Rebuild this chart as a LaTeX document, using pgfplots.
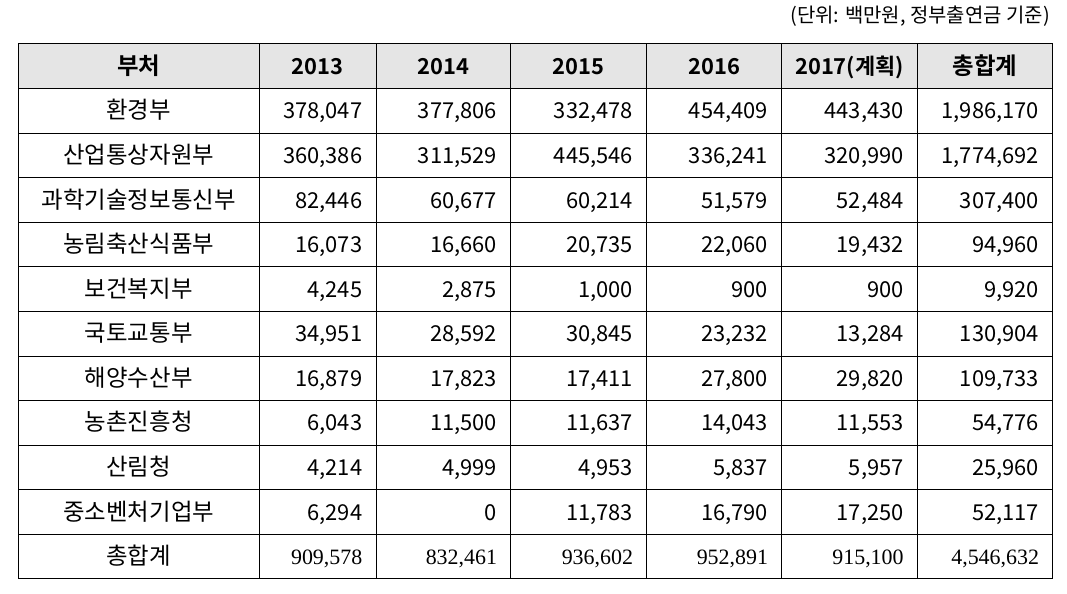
\documentclass[border=0pt]{standalone}
\usepackage{fontspec}
\setmainfont{Noto Sans CJK KR}[BoldFont=* Bold]
\newfontfamily\serifnum{Liberation Serif}
\usepackage{pgfplots}
\usepackage{pgfplotstable}
\pgfplotsset{compat=1.18}

\pgfplotstableread{
row name a b c d e t
1 환경부 378047 377806 332478 454409 443430 1986170
2 산업통상자원부 360386 311529 445546 336241 320990 1774692
3 과학기술정보통신부 82446 60677 60214 51579 52484 307400
4 농림축산식품부 16073 16660 20735 22060 19432 94960
5 보건복지부 4245 2875 1000 900 900 9920
6 국토교통부 34951 28592 30845 23232 13284 130904
7 해양수산부 16879 17823 17411 27800 29820 109733
8 농촌진흥청 6043 11500 11637 14043 11553 54776
9 산림청 4214 4999 4953 5837 5957 25960
10 중소벤처기업부 6294 0 11783 16790 17250 52117
11 총합계 909578 832461 936602 952891 915100 4546632
}\data

\newcommand{\fs}{\fontsize{22}{22}\selectfont}
\newcommand{\fk}{\fontsize{23.5}{23.5}\selectfont}
\newcommand{\numcol}[2]{%
  \addplot[draw=none,mark=none,point meta=explicit,
    nodes near coords={\pgfmathprintnumber[fixed,precision=0,1000 sep={,},assume math mode=true]{\pgfplotspointmeta}},
    every node near coord/.style={anchor=base east,inner sep=0pt,font=\fs},
    skip coords between index={10}{11}]
    table[x expr={#2-13.5}, y expr={44+44.58*(\thisrow{row}+0.5)+8}, meta=#1]{\data};
  \addplot[draw=none,mark=none,point meta=explicit,
    nodes near coords={\pgfmathprintnumber[fixed,precision=0,1000 sep={,},assume math mode=true]{\pgfplotspointmeta}},
    every node near coord/.style={anchor=base east,inner sep=0pt,font=\serifnum\fs},
    skip coords between index={0}{10}]
    table[x expr={#2-13.5}, y expr={44+44.58*(\thisrow{row}+0.5)+8}, meta=#1]{\data};
}

\begin{document}
\begin{tikzpicture}
\begin{axis}[
  width=1067bp, height=594bp, scale only axis,
  xmin=0, xmax=1067, ymin=0, ymax=594, y dir=reverse,
  hide axis, clip=false,
]
\path (axis cs:0,0) rectangle (axis cs:1067,594);
% header fill
\fill[black!10] (axis cs:18,44) rectangle (axis cs:1052.7,88.6);
% horizontal lines
\pgfplotsinvokeforeach{0,...,12}{
  \draw[line width=1bp] (axis cs:18,{44+44.58*#1}) -- (axis cs:1052.7,{44+44.58*#1});
}
% vertical lines
\foreach \xx in {18,259.3,376,510.7,646.7,781.7,917.3,1052.7}{
  \edef\tmp{\noexpand\draw[line width=1bp] (axis cs:\xx,44) -- (axis cs:\xx,579);}\tmp
}
% title
\node[anchor=base east,inner sep=0pt,font=\fontsize{20}{20}\selectfont] at (axis cs:1050,23) {(단위: 백만원, 정부출연금 기준)};
% header
\node[anchor=base,inner sep=0pt,font=\fk\bfseries] at (axis cs:138.7,74.3) {부처};
\node[anchor=base,inner sep=0pt,font=\fs\bfseries] at (axis cs:317.7,74.3) {2013};
\node[anchor=base,inner sep=0pt,font=\fs\bfseries] at (axis cs:443.4,74.3) {2014};
\node[anchor=base,inner sep=0pt,font=\fs\bfseries] at (axis cs:578.7,74.3) {2015};
\node[anchor=base,inner sep=0pt,font=\fs\bfseries] at (axis cs:714.2,74.3) {2016};
\node[anchor=base,inner sep=0pt,font=\fs\bfseries] at (axis cs:849.5,74.3) {2017(계획)};
\node[anchor=base,inner sep=0pt,font=\fk\bfseries] at (axis cs:985,74.3) {총합계};
% names
\addplot[draw=none,mark=none,point meta=explicit symbolic,
  nodes near coords,
  every node near coord/.style={anchor=base,inner sep=0pt,font=\fk}]
  table[x expr=138.7, y expr={44+44.58*(\thisrow{row}+0.5)+8}, meta=name]{\data};
\numcol{a}{376}
\numcol{b}{510.7}
\numcol{c}{646.7}
\numcol{d}{781.7}
\numcol{e}{917.3}
\numcol{t}{1052.7}
\end{axis}
\end{tikzpicture}
\end{document}
